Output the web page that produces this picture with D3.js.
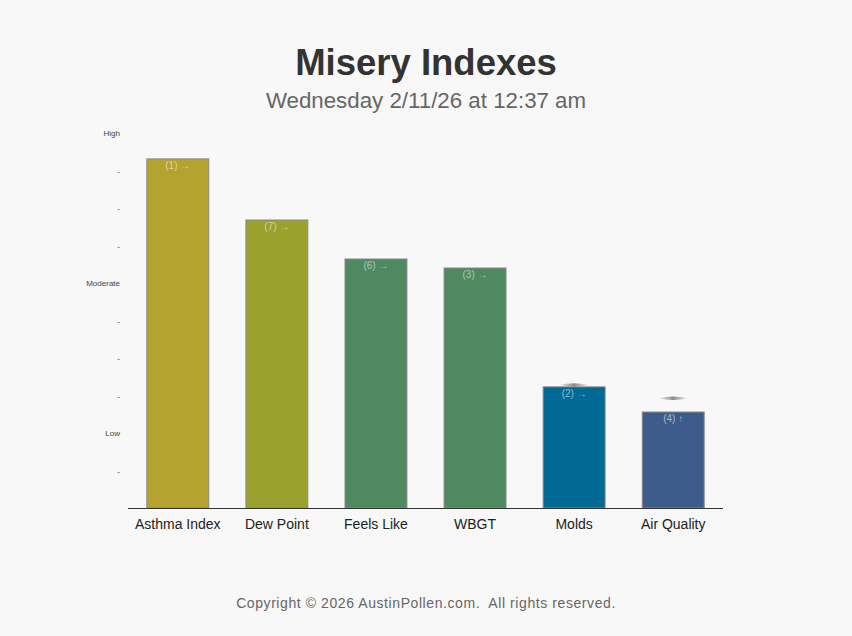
<!DOCTYPE html>
<html><head><meta charset="utf-8">
<script src="https://cdn.jsdelivr.net/npm/d3@7"></script>
<style>
html,body{margin:0;padding:0;background:#f8f8f8;}
svg{display:block;font-family:"Liberation Sans",Arial,Helvetica,sans-serif;}
</style></head>
<body>
<svg id="chart" width="852" height="636"></svg>
<script>
const categories = ["Asthma Index","Dew Point","Feels Like","WBGT","Molds","Air Quality"];
const values = [9.31, 7.68, 6.64, 6.40, 3.23, 2.56];
const rankLabels = ["(1) \u2192","(7) \u2192","(6) \u2192","(3) \u2192","(2) \u2192","(4) \u2191"];
const previous = [null, null, null, null, 3.28, 2.93];
const colors = ["#b5a330","#9aa22d","#4e8960","#4e8960","#006a94","#3d5c8b"];
const tickValues = [1,2,3,4,5,6,7,8,9,10];
const tickLabels = ["-","Low","-","-","-","Moderate","-","-","-","High"];

const svg = d3.select("#chart");
const x = d3.scaleBand().domain(categories).range([128, 723]).paddingInner(0.375).paddingOuter(0.19);
const y = d3.scaleLinear().domain([0, 10]).range([508, 133]);

svg.append("text").attr("x", 426).attr("y", 75).attr("text-anchor","middle")
  .attr("font-size", 36.5).attr("font-weight","bold").attr("fill","#333").text("Misery Indexes");
svg.append("text").attr("x", 426).attr("y", 108).attr("text-anchor","middle")
  .attr("font-size", 22.3).attr("fill","#666").text("Wednesday 2/11/26 at 12:37 am");
svg.append("text").attr("x", 426).attr("y", 608).attr("text-anchor","middle")
  .attr("font-size", 14).attr("fill","#666").attr("letter-spacing","0.58")
  .attr("xml:space","preserve").style("white-space","pre")
  .text("Copyright \u00a9 2026 AustinPollen.com.  All rights reserved.");

// y axis (labels only)
const yAxis = d3.axisLeft(y).tickValues(tickValues).tickSize(0).tickPadding(0)
  .tickFormat((d,i) => tickLabels[i]);
const yg = svg.append("g").attr("transform","translate(120,0)").call(yAxis);
yg.select(".domain").remove();
yg.selectAll("text").attr("font-size", 8).attr("fill","#444")
  .attr("font-family","\"Liberation Sans\",Arial,sans-serif");

// bars
const defs = svg.append("defs");
const grad = defs.append("linearGradient").attr("id","mk").attr("x1","0").attr("x2","1");
grad.append("stop").attr("offset","0").attr("stop-color","#bbb").attr("stop-opacity",0.3);
grad.append("stop").attr("offset","0.5").attr("stop-color","#888");
grad.append("stop").attr("offset","1").attr("stop-color","#bbb").attr("stop-opacity",0.3);

svg.selectAll("rect.bar").data(categories).join("rect").attr("class","bar")
  .attr("x", d => x(d)).attr("width", x.bandwidth())
  .attr("y", (d,i) => y(values[i])).attr("height", (d,i) => y(0) - y(values[i]))
  .attr("fill", (d,i) => colors[i]).attr("stroke","#888").attr("stroke-width",1);

svg.selectAll("text.rank").data(categories).join("text").attr("class","rank")
  .attr("x", d => x(d) + x.bandwidth()/2).attr("y", (d,i) => y(values[i]) + 10)
  .attr("text-anchor","middle").attr("font-size", 10).attr("fill","#ffffff").attr("fill-opacity",0.55)
  .text((d,i) => rankLabels[i]);

// previous-value markers
svg.selectAll("path.mk").data(categories.filter((d,i) => previous[i] !== null)).join("path").attr("class","mk")
  .attr("d", d => {
    const i = categories.indexOf(d);
    const cx = x(d) + x.bandwidth()/2, cy = y(previous[i]);
    return `M${cx-15},${cy} Q${cx},${cy-3.5} ${cx+15},${cy} Q${cx},${cy+3.5} ${cx-15},${cy} Z`;
  })
  .attr("fill","url(#mk)");

// x axis
const xAxis = d3.axisBottom(x).tickSize(0).tickPadding(11);
const xg = svg.append("g").attr("transform","translate(0,508)").call(xAxis);
xg.select(".domain").attr("stroke","#333").attr("d","M128,0.5H723");
xg.selectAll("text").attr("font-size", 14).attr("fill","#222")
  .attr("font-family","\"Liberation Sans\",Arial,sans-serif");
</script>
</body></html>
